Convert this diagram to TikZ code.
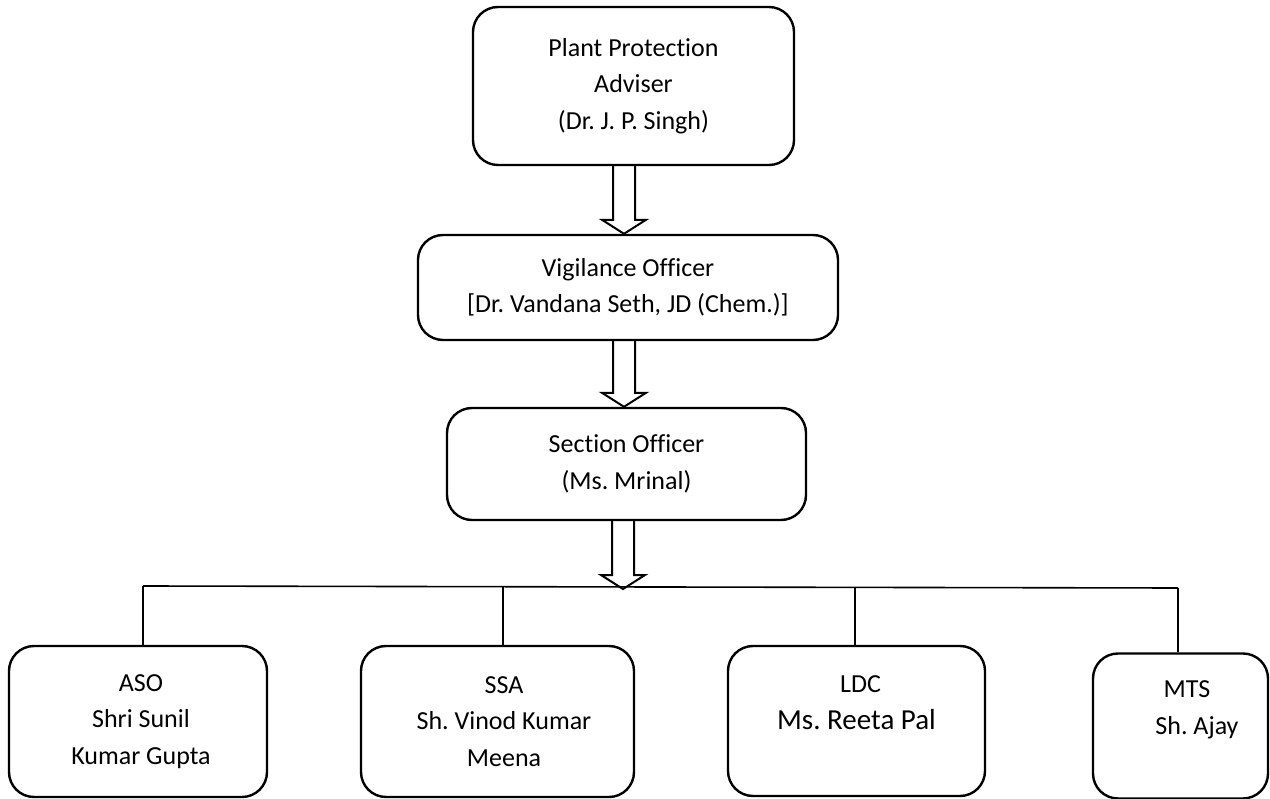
\documentclass[tikz,border=0pt]{standalone}
\usepackage{fontspec}
\setmainfont{Carlito}[Ligatures={NoCommon,NoContextual}]
\usetikzlibrary{calc}
\frenchspacing
\tikzset{
  orgbox/.style={draw, line width=2.4pt, rounded corners=25pt, align=center, inner sep=0pt,
    font=\fontsize{26}{36.5}\selectfont},
  barrow/.style={draw, line width=2pt, line join=miter},
  link/.style={draw, line width=2pt},
  barline/.style={draw, line width=1.6pt}
}
\newcommand\blockarrow[2]{%
  \draw[barrow] ($(#1)+(-11,0)$) -- ($(#2)+(-11,-14)$) -- ($(#2)+(-22,-14)$) -- (#2)
    -- ($(#2)+(22,-14)$) -- ($(#2)+(11,-14)$) -- ($(#1)+(11,0)$);}
\begin{document}
\begin{tikzpicture}[x=1pt, y=-1pt]
\useasboundingbox (0,0) rectangle (1270,799);
% boxes
\node[orgbox, minimum width=321pt, minimum height=158pt] (top) at (633.5,86)
  {Plant Protection\\Adviser\\(Dr. J. P. Singh)};
\node[orgbox, minimum width=420pt, minimum height=105pt] (vig) at (628,287.5)
  {Vigilance Officer\\{[}Dr. Vandana Seth, JD (Chem.)]};
\node[orgbox, minimum width=359pt, minimum height=112pt] (sec) at (626.5,464)
  {Section Officer\\(Ms. Mrinal)};
\node[orgbox, minimum width=258pt, minimum height=151pt] (aso) at (138,721.5)
  {\hspace*{6pt}ASO\\\hspace*{6pt}Shri Sunil\\\hspace*{6pt}Kumar Gupta};
\node[orgbox, minimum width=273pt, minimum height=151pt] (ssa) at (497.5,721.5)
  {\hspace*{13pt}SSA\\\hspace*{13pt}Sh. Vinod Kumar\\\hspace*{13pt}Meena};
\node[orgbox, minimum width=257pt, minimum height=150pt] (ldc) at (856.5,721)
  {\hspace*{8pt}LDC\\{\fontsize{29}{36.5}\selectfont Ms. Reeta Pal}\\\mbox{}};
\node[orgbox, minimum width=175pt, minimum height=145pt] (mts) at (1180.5,726)
  {\hspace*{13pt}MTS\\\hspace*{33pt}Sh. Ajay\\\mbox{}};
% arrow axis and bar
\coordinate (ax) at (624,0);
\coordinate (hub) at (623,589);
\coordinate (b1) at (143,586);
\coordinate (b2) at (503,586.5);
\coordinate (b3) at (855,587.5);
\coordinate (b4) at (1178,588);
% block arrows
\blockarrow{top.south -| ax}{vig.north -| ax}
\blockarrow{vig.south -| ax}{sec.north -| ax}
\blockarrow{sec.south -| hub}{hub}
% horizontal bar and drops
\draw[barline] (b1) -- (b4);
\draw[link] (b1) -- (b1 |- aso.north);
\draw[link] (b2) -- (b2 |- ssa.north);
\draw[link] (b3) -- (b3 |- ldc.north);
\draw[link] (b4) -- (b4 |- mts.north);
\end{tikzpicture}
\end{document}
